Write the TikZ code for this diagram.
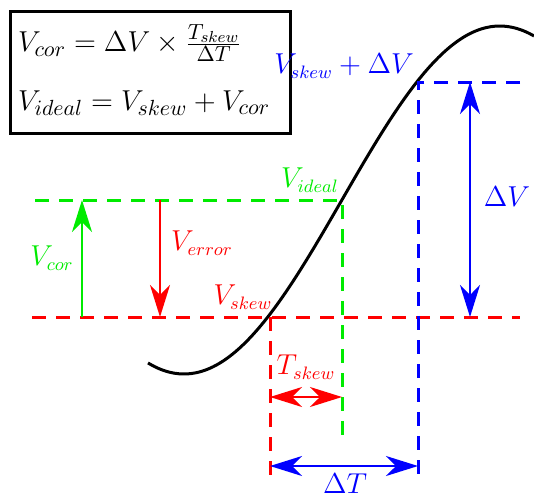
\documentclass[tikz,border=0pt]{standalone}
\usepackage{amsmath,amssymb}
\usetikzlibrary{arrows.meta}

\definecolor{vgreen}{RGB}{0,235,0}
\tikzset{
  guide/.style={line width=1.5pt, dash pattern=on 7pt off 5pt},
  measure/.style={line width=1pt, {Stealth[length=16pt,width=10pt,inset=5pt]}-{Stealth[length=16pt,width=10pt,inset=5pt]}},
  lbl/.style={font=\fontsize{13.4}{16}\selectfont},
}

\begin{document}
\begin{tikzpicture}[x=0.5pt,y=-0.5pt]
    \useasboundingbox (0,0) rectangle (534,498);

    % key points on the curve
    \coordinate (skew)  at (270,317);
    \coordinate (ideal) at (342,200);
    \coordinate (top)   at (418,82);

    % formula box
    \draw[line width=1.5pt] (10,11) rectangle (290,133);
    \node[anchor=west, font=\fontsize{15.1}{18}\selectfont] (fcor) at (11,43) {$V_{cor} = \Delta V \times \frac{T_{skew}}{\Delta T}$};
    \node[anchor=west, font=\fontsize{15.1}{18}\selectfont] (fideal) at (11,103) {$V_{ideal} = V_{skew} + V_{cor}$};

    % response curve
    \draw[line width=1.5pt] plot[domain=148:534, samples=90, smooth] (\x,{200+174*cos(0.57*(\x-184))});

    % guide lines
    \draw[guide, red] (32,317) -- (520,317);
    \draw[guide, vgreen] (35,200) -- (ideal) -- (342,435);
    \draw[guide, blue] (520,82) -- (top) -- (418,478);
    \draw[guide, red] (skew) -- (270,475);

    % voltage arrows
    \draw[line width=1pt, vgreen, -{Stealth[length=16pt,width=10pt,inset=5pt]}] (82,317) -- (82,200);
    \draw[line width=1pt, red, -{Stealth[length=16pt,width=10pt,inset=5pt]}] (160,200) -- (160,317);
    \draw[measure, blue] (470,82) -- (470,317);

    % time arrows
    \draw[measure, red] (270,397) -- (342,397);
    \draw[measure, blue] (270,466) -- (418,466);

    % labels
    \node[lbl, vgreen] (lcor)   at (52,258)  {$V_{cor}$};
    \node[lbl, red]    (lerr)   at (202,243) {$V_{error}$};
    \node[lbl, red]    (lskew)  at (243,297) {$V_{skew}$};
    \node[lbl, vgreen] (lideal) at (310,180) {$V_{ideal}$};
    \node[lbl, blue]   (ltop)   at (344,66)  {$V_{skew} + \Delta V$};
    \node[lbl, blue]   (ldv)    at (507,197) {$\Delta V$};
    \node[lbl, red]    (lts)    at (306,367) {$T_{skew}$};
    \node[lbl, blue]   (ldt)    at (345,484) {$\Delta T$};
\end{tikzpicture}
\end{document}
